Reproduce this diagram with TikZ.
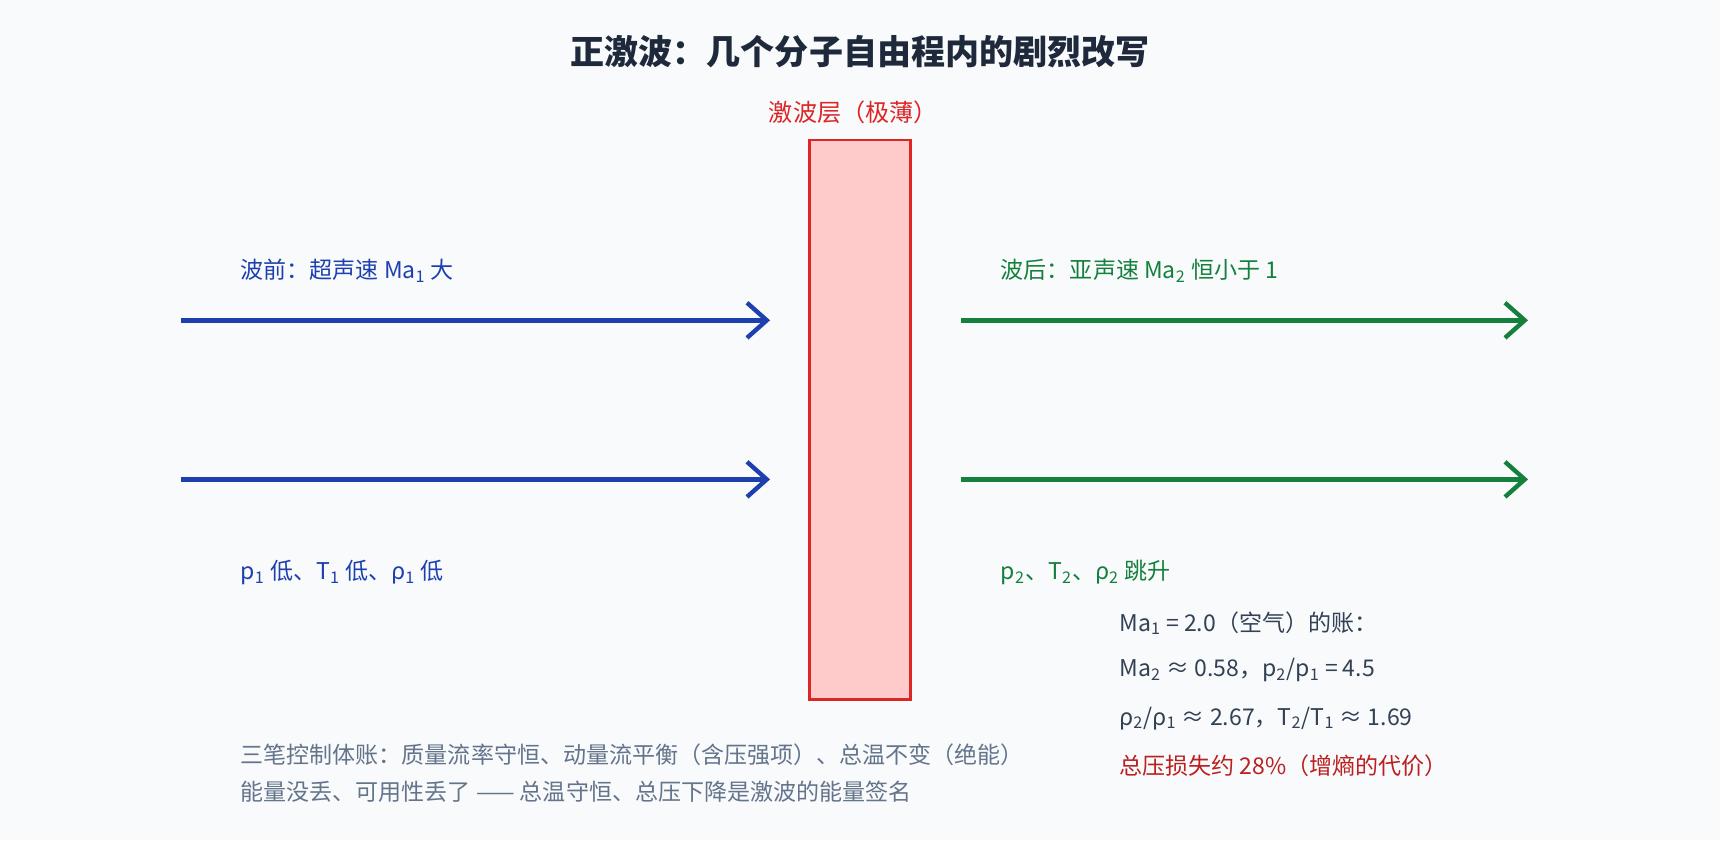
\documentclass[tikz,border=0pt]{standalone}
\usepackage{fontspec}
\setmainfont{Noto Sans CJK SC}
\usetikzlibrary{arrows.meta}
\definecolor{bg}{HTML}{F8FAFC}
\definecolor{dark}{HTML}{1E293B}
\definecolor{red1}{HTML}{DC2626}
\definecolor{redfill}{HTML}{FECACA}
\definecolor{blue1}{HTML}{1E40AF}
\definecolor{green1}{HTML}{15803D}
\definecolor{gray1}{HTML}{64748B}
\definecolor{txt}{HTML}{334155}
\newcommand{\sbs}[1]{\textsubscript{#1}}
\begin{document}
\begin{tikzpicture}[x=0.5pt,y=-0.5pt,
  lab/.style={anchor=west,inner sep=0,font=\fontsize{10.5}{12}\selectfont},
  flow/.style={line width=2pt,-{Straight Barb[length=9pt,width=16pt,line width=2pt]}}]
\fill[bg] (0,0) rectangle (1568,766);
\useasboundingbox (0,0) rectangle (1568,766);
\node[font=\fontsize{15.5}{18}\selectfont\bfseries,text=dark] (title) at (784,47) {正激波：几个分子自由程内的剧烈改写};
\node[font=\fontsize{11}{13}\selectfont,text=red1] (layerlab) at (778,102) {激波层（极薄）};
\node[draw=red1,fill=redfill,line width=1.2pt,minimum width=46pt,minimum height=255pt,inner sep=0] (shock) at (784,382.5) {};
\coordinate (b1s) at (165,292); \coordinate (b1e) at (702,292);
\coordinate (b2s) at (165,437); \coordinate (b2e) at (702,437);
\coordinate (g1s) at (876,292); \coordinate (g1e) at (1393,292);
\coordinate (g2s) at (876,437); \coordinate (g2e) at (1393,437);
\draw[flow,blue1] (b1s) -- (b1e);
\draw[flow,blue1] (b2s) -- (b2e);
\draw[flow,green1] (g1s) -- (g1e);
\draw[flow,green1] (g2s) -- (g2e);
\node[lab,text=blue1] (pre) at (219,247) {波前：超声速 Ma\sbs{1} 大};
\node[lab,text=blue1] (prep) at (219,522) {p\sbs{1} 低、T\sbs{1} 低、ρ\sbs{1} 低};
\node[lab,text=green1] (post) at (912,247) {波后：亚声速 Ma\sbs{2} 恒小于 1};
\node[lab,text=green1] (postp) at (912,522) {p\sbs{2}、T\sbs{2}、ρ\sbs{2} 跳升};
\node[lab,text=txt] (c1) at (1020,568) {Ma\sbs{1} = 2.0（空气）的账：};
\node[lab,text=txt] (c2) at (1020,611) {Ma\sbs{2} ≈ 0.58，p\sbs{2}/p\sbs{1} = 4.5};
\node[lab,text=txt] (c3) at (1020,655) {ρ\sbs{2}/ρ\sbs{1} ≈ 2.67，T\sbs{2}/T\sbs{1} ≈ 1.69};
\node[lab,text=red1!85!black] (c4) at (1020,698) {总压损失约 28\%（增熵的代价）};
\node[lab,text=gray1] (n1) at (219,688) {三笔控制体账：质量流率守恒、动量流平衡（含压强项）、总温不变（绝能）};
\node[lab,text=gray1] (n2) at (219,722) {能量没丢、可用性丢了 —— 总温守恒、总压下降是激波的能量签名};
\end{tikzpicture}
\end{document}
